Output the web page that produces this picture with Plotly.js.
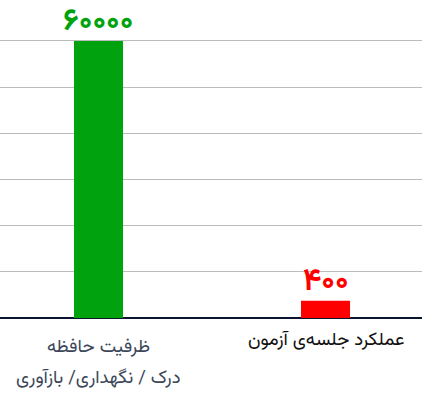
<!DOCTYPE html>
<html><head><meta charset="utf-8">
<script src="https://cdn.plot.ly/plotly-3.0.1.min.js"></script>
<style>html,body{margin:0;padding:0;background:#fff;}</style>
</head><body>
<div id="chart" style="width:422px;height:397px;"></div>
<script>
const categories = ['memory', 'session'];
const values = [60000, 3750];
const valueLabels = ['۶۰۰۰۰', '۴۰۰'];
const barColors = ['#00a30e', '#ff0000'];
const catLine1 = ['ظرفیت حافظه', 'عملکرد جلسه‌ی آزمون'];
const catLine2 = ['درک / نگهداری/ بازآوری', ''];

const fontFam = 'Vazirmatn, DejaVu Sans, sans-serif';
const trace = {
  type: 'bar',
  x: categories,
  y: values,
  width: 0.216,
  marker: {color: barColors},
  hoverinfo: 'none'
};

const valueAnnotations = categories.map((c, i) => ({
  x: c, y: values[i], xref: 'x', yref: 'y', text: valueLabels[i], showarrow: false,
  xanchor: 'center', yanchor: 'bottom', yshift: -8,
  font: {family: fontFam, size: 31, color: barColors[i], weight: 'bold'}
}));

const catAnnotations = [
  {x: categories[0], y: -0.0912, text: catLine1[0], color: '#3b4759'},
  {x: categories[0], y: -0.1887, text: catLine2[0], color: '#3b4759'},
  {x: categories[1], y: -0.0692, text: catLine1[1], color: '#111111'}
].map(a => ({
  x: a.x, y: a.y, xref: 'x', yref: 'paper', text: a.text, showarrow: false,
  xanchor: 'center', yanchor: 'middle',
  font: {family: fontFam, size: 18.5, color: a.color}
}));

const layout = {
  width: 422, height: 397,
  margin: {l: 0, r: 0, t: 0, b: 79},
  paper_bgcolor: '#ffffff', plot_bgcolor: '#ffffff',
  showlegend: false,
  xaxis: {
    type: 'category', range: [-0.434, 1.425], showticklabels: false,
    showgrid: false, zeroline: false, showline: false, ticks: ''
  },
  yaxis: {
    range: [0, 68876], dtick: 10000, showticklabels: false,
    showgrid: true, gridcolor: '#bbbbbb', gridwidth: 1,
    zeroline: true, zerolinecolor: '#0b1530', zerolinewidth: 2, ticks: ''
  },
  annotations: valueAnnotations.concat(catAnnotations)
};
Plotly.newPlot('chart', [trace], layout, {displayModeBar: false, staticPlot: true});
</script>
</body></html>
